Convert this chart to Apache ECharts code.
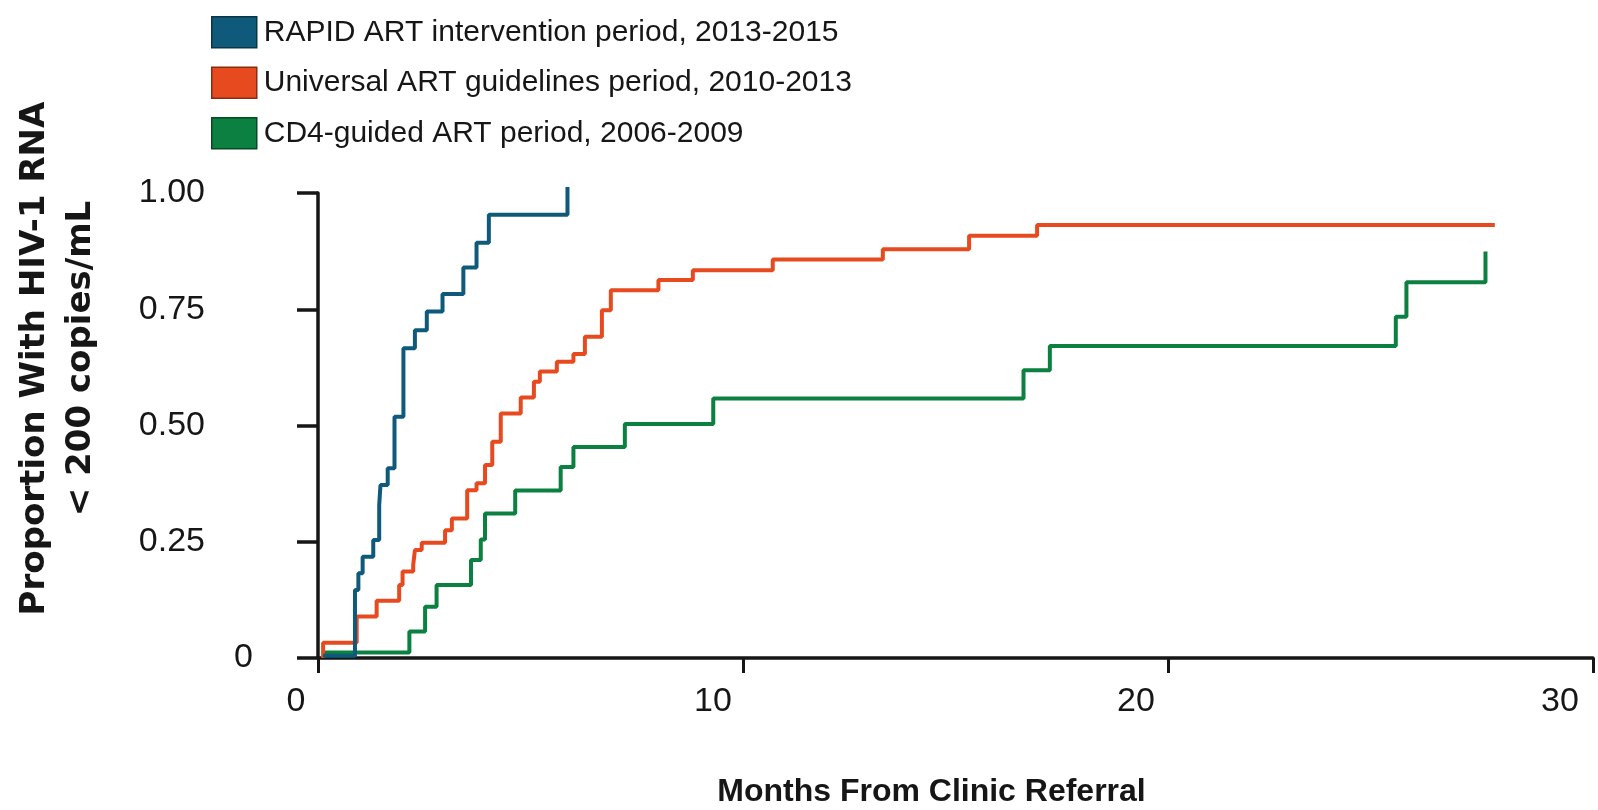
<!DOCTYPE html>
<html>
<head>
<meta charset="utf-8">
<script src="https://cdn.jsdelivr.net/npm/echarts@6/dist/echarts.min.js"></script>
<style>
html,body{margin:0;padding:0;background:#fff;}
#c{width:1598px;height:810px;}
</style>
</head>
<body>
<div id="c"></div>
<script>
// ---- data ----
const seriesNames = [
  'RAPID ART intervention period, 2013-2015',
  'Universal ART guidelines period, 2010-2013',
  'CD4-guided ART period, 2006-2009'
];
const rapidMonths = [0.12, 0.87, 0.95, 1.05, 1.30, 1.44, 1.47, 1.64, 1.80, 2.01, 2.28, 2.56, 2.93, 3.42, 3.73, 4.02, 5.87];
const rapidValues = [0.005, 0.146, 0.182, 0.218, 0.254, 0.329, 0.372, 0.408, 0.519, 0.666, 0.705, 0.745, 0.783, 0.840, 0.893, 0.953, 1.013];

const universalMonths = [0.12, 0.12, 0.91, 1.38, 1.91, 1.99, 2.24, 2.28, 2.44, 2.99, 3.15, 3.51, 3.73, 3.93, 4.10, 4.30, 4.77, 5.08, 5.22, 5.62, 6.01, 6.28, 6.68, 6.89, 8.01, 8.82, 10.70, 13.29, 15.32, 16.92, 27.69];
const universalValues = [0, 0.033, 0.089, 0.123, 0.157, 0.186, 0.200, 0.232, 0.248, 0.275, 0.300, 0.361, 0.376, 0.415, 0.465, 0.526, 0.560, 0.594, 0.616, 0.637, 0.654, 0.691, 0.748, 0.791, 0.813, 0.834, 0.857, 0.879, 0.908, 0.931, 0.931];

const cd4Months = [0.12, 2.15, 2.52, 2.79, 3.60, 3.83, 3.93, 4.64, 5.71, 6.01, 7.22, 9.30, 16.60, 17.22, 25.36, 25.61, 27.47];
const cd4Values = [0.012, 0.057, 0.110, 0.157, 0.211, 0.255, 0.311, 0.360, 0.411, 0.454, 0.503, 0.558, 0.619, 0.671, 0.734, 0.808, 0.874];

const xTicks = [0, 10, 20, 30];
const yTicks = [0, 0.25, 0.50, 0.75, 1.00];
const xTitle = 'Months From Clinic Referral';
const yTitle = 'Proportion With HIV-1 RNA\n< 200 copies/mL';

// ---- styling ----
const colors = ['#0f5a7a', '#e84a1f', '#0b8040'];
const borders = ['#0a3447', '#8a2a10', '#064a24'];
const narrow = '"Liberation Sans Narrow", "Arial Narrow", "Liberation Sans", sans-serif';
const ink = '#161616';

function zip(xs, ys) { return xs.map((x, i) => [x, ys[i]]); }

const chart = echarts.init(document.getElementById('c'), null, {renderer: 'canvas'});
const xSpacer = {0: 44, 10: 60, 20: 64, 30: 66};

chart.setOption({
  animation: false,
  backgroundColor: '#ffffff',
  color: colors,
  legend: {
    orient: 'vertical',
    left: 206,
    top: 11,
    itemWidth: 45,
    itemHeight: 31,
    itemGap: 18,
    icon: 'rect',
    selectedMode: false,
    textStyle: {fontSize: 30, fontFamily: '"Liberation Sans", Arial, sans-serif', color: ink, padding: [0, 0, 0, 2]},
    data: seriesNames.map((n, i) => ({name: n, itemStyle: {color: colors[i], borderColor: borders[i], borderWidth: 1.5}}))
  },
  grid: {left: 318, right: 5, top: 193, bottom: 152, containLabel: false, outerBoundsMode: 'none'},
  xAxis: {
    type: 'value',
    min: 0, max: 30, interval: 10,
    name: xTitle,
    nameLocation: 'middle',
    nameGap: 118,
    nameTextStyle: {fontSize: 32, fontWeight: 'bold', fontFamily: narrow, color: ink, padding: [0, 48, 0, 0]},
    splitLine: {show: false},
    axisLine: {show: true, lineStyle: {color: ink, width: 3.5}},
    axisTick: {show: true, length: 15, lineStyle: {color: ink, width: 3}},
    axisLabel: {
      margin: 27,
      fontSize: 34, fontFamily: narrow, color: ink,
      formatter: v => '{v|' + v + '}{s' + v + '| }',
      rich: {
        v: {fontSize: 34, fontFamily: narrow, color: ink},
        s0: {width: xSpacer[0]}, s10: {width: xSpacer[10]}, s20: {width: xSpacer[20]}, s30: {width: xSpacer[30]}
      }
    }
  },
  yAxis: {
    type: 'value',
    min: 0, max: 1, interval: 0.25,
    name: yTitle,
    nameLocation: 'middle',
    nameRotate: 90,
    nameGap: 214,
    nameTextStyle: {fontSize: 34, fontWeight: 'bold', fontFamily: '"DejaVu Sans", Verdana, sans-serif', color: ink, lineHeight: 46, padding: [0, 0, 0, 134]},
    splitLine: {show: false},
    axisLine: {show: true, lineStyle: {color: ink, width: 3.5}},
    axisTick: {show: true, length: 21, lineStyle: {color: ink, width: 3.5}},
    axisLabel: {
      margin: 65,
      fontSize: 34, fontFamily: narrow, color: ink,
      formatter: v => v === 0 ? '{v|0}' : '{v|' + v.toFixed(2) + '}{s| }',
      rich: {
        v: {fontSize: 34, fontFamily: narrow, color: ink},
        s: {width: 48}
      }
    }
  },
  series: [
    {name: seriesNames[0], type: 'line', step: 'end', showSymbol: false, clip: false, z: 4,
     lineStyle: {width: 4, color: colors[0]}, itemStyle: {color: colors[0]}, data: zip(rapidMonths, rapidValues)},
    {name: seriesNames[1], type: 'line', step: 'end', showSymbol: false, clip: false, z: 3,
     lineStyle: {width: 4, color: colors[1]}, itemStyle: {color: colors[1]}, data: zip(universalMonths, universalValues)},
    {name: seriesNames[2], type: 'line', step: 'end', showSymbol: false, clip: false, z: 2,
     lineStyle: {width: 4, color: colors[2]}, itemStyle: {color: colors[2]}, data: zip(cd4Months, cd4Values)}
  ]
});
</script>
</body>
</html>
